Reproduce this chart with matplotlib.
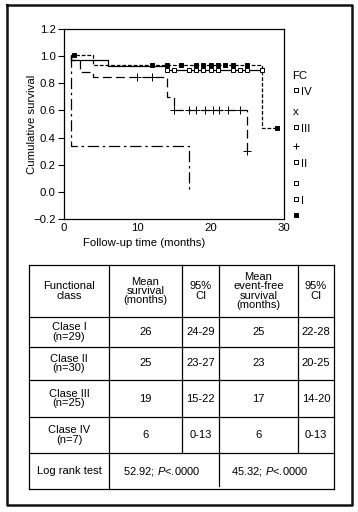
import numpy as np
import matplotlib
matplotlib.use("Agg")
import matplotlib.pyplot as plt

plt.rcParams['font.family'] = ['Liberation Sans', 'DejaVu Sans']
plt.rcParams['mathtext.fontset'] = 'custom'
plt.rcParams['mathtext.rm'] = 'Liberation Sans'
plt.rcParams['mathtext.it'] = 'Liberation Sans:italic'

# Kaplan-Meier curves per functional class: step times / survival after step
t_I = [1, 4, 27, 29]
s_I = [1.005, 0.935, 0.47, 0.47]
cens_I = [1.3, 12, 14, 16, 18, 19, 20, 21, 22, 23, 25, 29]

t_II = [1, 6, 14, 27]
s_II = [0.97, 0.93, 0.90, 0.90]
cens_II = [14, 15, 17, 18, 19, 20, 21, 23, 24, 25, 27]

t_III = [1, 2.2, 4, 14, 15, 25]
s_III = [0.97, 0.88, 0.845, 0.70, 0.60, 0.30]
cens_III = [10, 12, 15, 17, 18, 19.2, 20.3, 21.2, 22.4, 24, 25]

t_IV = [1, 17]
s_IV = [0.34, 0.02]
cens_IV = []

# table
header = ["Functional\nclass", "Mean\nsurvival\n(months)", "95%\nCI",
          "Mean\nevent-free\nsurvival\n(months)", "95%\nCI"]
classes = ["Clase I\n(n=29)", "Clase II\n(n=30)", "Clase III\n(n=25)", "Clase IV\n(n=7)"]
mean_surv = ["26", "25", "19", "6"]
ci_surv = ["24-29", "23-27", "15-22", "0-13"]
mean_efs = ["25", "23", "17", "6"]
ci_efs = ["22-28", "20-25", "14-20", "0-13"]
logrank = ["52.92; $\\it{P}$<.0000", "45.32; $\\it{P}$<.0000"]

W, H = 358, 512
fig = plt.figure(figsize=(W / 100, H / 100), dpi=100)

# overlay in pixel coordinates for frame, legend and table
ov = fig.add_axes([0, 0, 1, 1])
ov.set_xlim(0, W)
ov.set_ylim(H, 0)
ov.axis('off')

ov.plot([7, 352, 352, 7, 7], [5, 5, 505, 505, 5], color='#111111', lw=1.8)

ax = fig.add_axes([64 / W, (H - 219) / H, 220 / W, 190 / H])


def km(ax, t, s, ls, marker, cens, ms, mfc):
    x = [t[0]] + list(t)
    y = [1.0] + list(s)
    ax.step(x, y, where='post', color='black', lw=0.9, linestyle=ls)
    if cens:
        idx = np.searchsorted(t, cens, side='right') - 1
        ax.plot(cens, np.array(s)[idx], linestyle='none', marker=marker,
                ms=ms, mfc=mfc, mec='black', mew=0.7)


km(ax, t_I, s_I, (0, (3, 1.5)), 's', cens_I, 2.5, 'black')
km(ax, t_II, s_II, '-', 's', cens_II, 2.5, 'white')
km(ax, t_III, s_III, (0, (7, 3.5)), '+', cens_III, 6, 'black')
km(ax, t_IV, s_IV, (0, (9, 3, 2, 3)), 'x', cens_IV, 4, 'black')

ax.set_xlim(0, 30)
ax.set_ylim(-0.2, 1.2)
ax.set_xticks([0, 10, 20, 30])
ax.set_yticks(np.arange(-0.2, 1.21, 0.2))
ax.set_yticklabels(["\u22120.2", "0.0", "0.2", "0.4", "0.6", "0.8", "1.0", "1.2"])
ax.tick_params(axis='y', direction='out', length=4, width=0.8, labelsize=8.2, pad=2)
ax.tick_params(axis='x', length=0, labelsize=8.2, pad=3)
for sp in ax.spines.values():
    sp.set_linewidth(0.9)
ax.set_ylabel("Cumulative survival", fontsize=8.2, va='center')
ax.yaxis.set_label_coords(-0.145, 0.5)
ax.set_xlabel("Follow-up time (months)", fontsize=8.2)
ax.xaxis.set_label_coords(0.364, -0.1)

# legend (SPSS style)
ov.text(292, 76, "FC", fontsize=8.2, va='center', ha='left')
leg = [("s", "white", "IV", 92), ("x", "black", "", 112),
       ("s", "white", "III", 129), ("+", "black", "", 146),
       ("s", "white", "II", 164), ("s", "white", "", 183),
       ("s", "white", "I", 201), ("s", "black", "", 215)]
for m, fc, lab, yy in leg:
    if m == 'x':
        ov.text(293, yy, "x", fontsize=8.2, va='center', ha='left')
        continue
    ov.plot([296], [yy - 2 if lab else yy], marker=m, ms=2.5 if m == 's' else 5,
            mfc=fc, mec='black', mew=0.7, linestyle='none')
    if lab:
        ov.text(301, yy, lab, fontsize=8.2, va='center', ha='left')

# table grid
xs = [29, 109, 182, 219, 298, 334]
ys = [265, 317, 347, 380, 417, 453, 489]
lw = 0.9
for yy in ys:
    ov.plot([xs[0], xs[-1]], [yy, yy], color='black', lw=lw)
ov.plot([xs[0], xs[0]], [ys[0], ys[-1]], color='black', lw=lw)
ov.plot([xs[-1], xs[-1]], [ys[0], ys[-1]], color='black', lw=lw)
ov.plot([xs[1], xs[1]], [ys[0], ys[-1]], color='black', lw=lw)
for xx in xs[2:-1]:
    ov.plot([xx, xx], [ys[0], ys[-2]], color='black', lw=lw)
ov.plot([219, 219], [ys[-2], 486], color='black', lw=lw)

fs = 8
cx = [(xs[i] + xs[i + 1]) / 2 for i in range(5)]
for i, h in enumerate(header):
    ov.text(cx[i], (ys[0] + ys[1]) / 2, h, fontsize=fs, ha='center', va='center',
            linespacing=0.9)
for r in range(4):
    yc = (ys[r + 1] + ys[r + 2]) / 2
    vals = [classes[r], mean_surv[r], ci_surv[r], mean_efs[r], ci_efs[r]]
    for i, v in enumerate(vals):
        ov.text(cx[i], yc, v, fontsize=fs, ha='center', va='center', linespacing=0.9)
yc = (ys[-2] + ys[-1]) / 2
ov.text(cx[0], yc, "Log rank test", fontsize=fs, ha='center', va='center')
ov.text(162, yc, logrank[0], fontsize=fs, ha='center', va='center')
ov.text(270, yc, logrank[1], fontsize=fs, ha='center', va='center')

fig.savefig("out.png", dpi=100)
